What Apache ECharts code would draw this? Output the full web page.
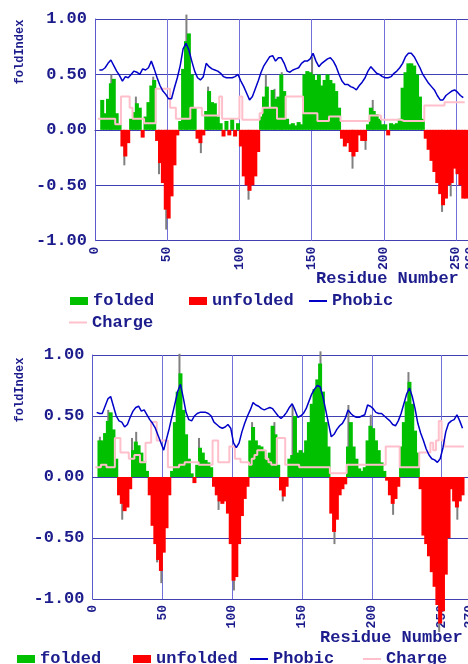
<!DOCTYPE html>
<html><head><meta charset="utf-8">
<script src="https://cdn.jsdelivr.net/npm/echarts@6/dist/echarts.min.js"></script>
<style>html,body{margin:0;padding:0;background:#fff;overflow:hidden}#c{width:468px;height:664px}</style>
</head><body><div id="c"></div>
<script>
// residue numbering of the sampled values: first residue and step
const START = 1, STEP = 2;

// ---- top panel ----
const topFold = [null,null,0.27,0.15,0.28,0.42,0.46,0.15,0.05,-0.15,
 -0.24,-0.12,0.1,0.16,0.24,0.2,-0.07,0.12,0.25,0.4,
 0.45,-0.1,-0.3,-0.48,-0.72,-0.8,-0.6,-0.32,-0.05,0.08,
 0.55,0.8,0.87,0.5,0.2,-0.08,-0.12,-0.05,0.17,0.35,
 0.25,0.24,0.12,0.06,-0.06,0.08,-0.05,0.1,-0.06,0.06,
 -0.15,-0.42,-0.5,-0.55,-0.5,-0.42,-0.2,0.12,0.3,0.39,
 0.2,0.36,0.28,0.3,0.5,0.35,0.1,0.05,0.06,0.04,
 0.07,0.05,0.5,0.53,0.52,0.5,0.45,0.5,0.4,0.45,
 0.5,0.45,0.42,0.35,0.2,-0.08,-0.15,-0.12,-0.2,-0.24,
 -0.2,-0.05,-0.1,-0.1,0.05,0.2,0.17,0.14,0.1,0.05,
 0.05,-0.05,0.06,0.05,0.06,0.1,0.38,0.52,0.6,0.6,
 0.58,0.5,0.3,0.1,-0.08,-0.18,-0.28,-0.38,-0.48,-0.58,
 -0.68,-0.62,-0.5,-0.48,-0.35,-0.4,-0.5,-0.62,-0.62,null];
const topPhobic = [null,0.54,0.54,0.56,0.6,0.63,0.58,0.53,0.49,0.44,
 0.48,0.47,0.5,0.53,0.52,0.5,0.55,0.54,0.56,0.62,
 0.55,0.47,0.4,0.35,0.32,0.28,0.28,0.38,0.47,0.58,
 0.73,0.78,0.72,0.62,0.53,0.47,0.45,0.48,0.6,0.57,
 0.55,0.54,0.53,0.51,0.48,0.47,0.47,0.47,0.48,0.5,
 0.44,0.39,0.33,0.27,0.3,0.37,0.44,0.52,0.58,0.62,
 0.66,0.67,0.62,0.65,0.65,0.6,0.53,0.52,0.54,0.55,
 0.56,0.6,0.62,0.62,0.64,0.69,0.62,0.57,0.6,0.62,
 0.64,0.65,0.62,0.57,0.5,0.44,0.41,0.41,0.39,0.38,
 0.36,0.4,0.43,0.47,0.53,0.57,0.54,0.51,0.5,0.48,
 0.47,0.47,0.48,0.51,0.53,0.56,0.6,0.66,0.69,0.69,
 0.66,0.61,0.56,0.5,0.46,0.42,0.39,0.36,0.31,0.27,
 0.27,0.31,0.33,0.35,0.36,0.34,0.31,0.29,null,null];
const topCharge = [null,0.1,0.1,0.1,0.1,0.1,0.1,0.05,0.05,0.3,
 0.3,0.3,0.2,0.1,0.1,0.1,0.1,0.06,0.06,0.06,
 0.06,0.37,0.37,0.37,0.37,0.37,0.2,0.2,0.1,0.1,
 0.1,0.1,0.1,0.2,0.2,0.2,0.2,0.13,0.13,0.13,
 0.13,0.13,0.13,0.3,0.1,0.1,0.1,0.1,0.1,0.1,
 0.3,0.09,0.09,0.09,0.09,0.09,0.09,0.15,0.2,0.2,
 0.2,0.2,0.2,0.1,0.1,0.1,0.3,0.3,0.3,0.3,
 0.3,0.3,0.15,0.15,0.15,0.15,0.15,0.08,0.08,0.08,
 0.08,0.12,0.12,0.12,0.12,0.08,0.08,0.08,0.08,0.08,
 0.08,0.08,0.08,0.08,0.08,0.13,0.13,0.13,0.13,0.09,
 0.09,0.09,0.09,0.09,0.09,0.09,0.08,0.08,0.08,0.08,
 0.08,0.08,0.08,0.08,0.22,0.22,0.22,0.22,0.22,0.22,
 0.22,0.25,0.25,0.25,0.25,0.25,0.25,0.25,null,null];
const topSpikes = [[12,0.5],[21,-0.32],[29,0.3],[41,0.48],[45,-0.4],[50,-0.9],[64,1.04],[74,-0.21],[79,0.39],
 [107,-0.63],[119,0.5],[125,0.37],[130,0.52],[151,0.66],[179,-0.35],[188,-0.18],[193,0.27],[241,-0.74],[247,-0.6]];

// ---- bottom panel ----
const botFold = [null,null,0.3,0.3,0.36,0.46,0.53,0.39,0.15,-0.15,
 -0.22,-0.28,-0.25,-0.1,0.22,0.29,0.26,0.2,0.13,0.05,
 -0.15,-0.4,-0.55,-0.68,-0.77,-0.62,-0.42,-0.15,0.05,0.45,
 0.7,0.85,0.55,0.35,0.15,0.03,-0.05,0.1,0.24,0.2,
 0.14,0.12,0.08,-0.08,-0.15,-0.2,-0.22,-0.2,-0.3,-0.55,
 -0.85,-0.82,-0.55,-0.32,-0.18,-0.08,0.3,0.41,0.3,0.26,
 0.25,0.22,0.14,0.2,0.42,0.35,0.1,-0.11,-0.16,-0.08,
 0.15,0.18,0.5,0.2,0.22,0.2,0.3,0.45,0.6,0.72,
 0.8,0.93,0.7,0.45,0.25,-0.3,-0.45,-0.35,-0.15,-0.1,
 -0.06,0.25,0.45,0.25,0.15,0.07,0.05,0.08,0.3,0.42,
 0.4,0.3,0.22,0.12,0.05,-0.03,-0.15,-0.22,-0.18,-0.08,
 0.25,0.45,0.62,0.78,0.6,0.38,0.2,-0.1,-0.48,-0.55,
 -0.65,-0.78,-0.9,-1.05,-1.2,-1.1,-0.8,-0.5,-0.1,-0.2,
 -0.25,-0.2,-0.15,null,null];
const botPhobic = [null,0.53,0.52,0.52,0.58,0.64,0.66,0.58,0.5,0.46,
 0.45,0.41,0.43,0.49,0.54,0.57,0.58,0.54,0.55,0.51,
 0.47,0.44,0.4,0.34,0.28,0.22,0.31,0.4,0.5,0.6,
 0.7,0.76,0.65,0.53,0.47,0.46,0.5,0.52,0.53,0.53,
 0.53,0.52,0.5,0.45,0.43,0.41,0.4,0.41,0.43,0.4,
 0.28,0.24,0.28,0.37,0.44,0.5,0.55,0.61,0.59,0.58,
 0.56,0.55,0.56,0.57,0.56,0.53,0.5,0.48,0.5,0.53,
 0.57,0.6,0.55,0.49,0.5,0.52,0.56,0.62,0.68,0.72,
 0.75,0.74,0.66,0.55,0.44,0.33,0.35,0.39,0.42,0.44,
 0.48,0.55,0.52,0.5,0.49,0.49,0.5,0.51,0.59,0.58,
 0.56,0.53,0.52,0.52,0.5,0.48,0.46,0.43,0.42,0.46,
 0.52,0.6,0.68,0.73,0.66,0.56,0.44,0.36,0.3,0.23,
 0.18,0.15,0.14,0.12,0.15,0.24,0.37,0.44,0.46,0.47,
 0.51,0.46,0.4,null,null];
const botCharge = [null,0.08,0.08,0.1,0.1,0.08,0.08,0.08,0.32,0.32,
 0.2,0.2,0.2,0.15,0.15,0.18,0.18,0.12,0.12,0.28,
 0.28,0.45,0.45,0.3,0.3,0.3,0.3,0.08,0.08,0.08,
 0.08,0.1,0.1,0.12,0.12,0.12,0.12,0.12,0.1,0.1,
 0.1,0.1,0.1,0.3,0.3,0.12,0.12,0.12,0.12,0.25,
 0.25,0.15,0.15,0.12,0.12,0.12,0.1,0.15,0.18,0.22,
 0.22,0.22,0.15,0.12,0.1,0.1,0.32,0.32,0.32,0.1,
 0.1,0.1,0.1,0.1,0.08,0.08,0.08,0.08,0.08,0.08,
 0.08,0.08,0.08,0.08,0.08,0.03,0.03,0.03,0.03,0.03,
 0.03,0.1,0.1,0.1,0.1,0.1,0.1,0.1,0.1,0.1,
 0.1,0.1,0.1,0.1,0.1,0.25,0.25,0.25,0.25,0.25,
 0.08,0.08,0.08,0.08,0.08,0.08,0.08,0.2,0.2,0.2,
 0.2,0.28,0.22,0.3,0.46,0.3,0.25,0.25,0.25,0.25,
 0.25,0.25,0.25,null,null];
const botSpikes = [[6,0.33],[12,0.55],[22,-0.35],[29,0.32],[32,0.37],[47,-0.7],[50,-0.87],[63,1.01],[77,0.32],
 [91,-0.27],[102,-0.93],[115,0.45],[131,0.45],[137,-0.2],[144,0.59],[164,1.03],[174,-0.55],[184,0.59],
 [200,0.51],[216,-0.31],[227,0.86],[249,-1.27],[262,-0.35]];

// axes
const topXMax = 260, botXMax = 270, xInterval = 50;
const yMin = -1, yMax = 1, yInterval = 0.5;
const legendNames = ['folded', 'unfolded', 'Phobic', 'Charge'];

const FONT = '"Liberation Mono", "DejaVu Sans Mono", monospace';
const TXT = '#1c1c8c';
const GREEN = '#00c000', RED = '#ff0000', GRAY = '#808080', BLUE = '#0000c8', PINK = '#ffc0cb';

const xy = arr => arr.map((v, i) => [START + STEP * i, v]);
const pos = arr => arr.map((v, i) => [START + STEP * i, (v != null && v > 0) ? v : null]);
const neg = arr => arr.map((v, i) => [START + STEP * i, (v != null && v < 0) ? v : null]);

function xAxis(gi, max) {
  return {
    type: 'value', gridIndex: gi, min: 0, max: max, interval: xInterval,
    axisLine: { show: true, lineStyle: { color: '#3c3cb0', width: 1 } },
    axisTick: { show: false },
    splitLine: { show: true, lineStyle: { color: '#7070d8', width: 1 } },
    axisLabel: { rotate: 90, margin: 6, color: TXT, fontFamily: FONT, fontWeight: 'bold', fontSize: 13,
      showMaxLabel: true, showMinLabel: true, hideOverlap: false }
  };
}
function yAxis(gi) {
  return {
    type: 'value', gridIndex: gi, min: yMin, max: yMax, interval: yInterval,
    axisLine: { show: true, onZero: false, lineStyle: { color: '#5a5acc', width: 1 } },
    axisTick: { show: false },
    splitLine: { show: true, lineStyle: { color: '#4040b0', width: 1 } },
    axisLabel: { margin: 8, color: TXT, fontFamily: FONT, fontWeight: 'bold', fontSize: 17,
      formatter: v => v.toFixed(2) }
  };
}
function panelSeries(idx, fold, phobic, charge, spikes) {
  const base = { xAxisIndex: idx, yAxisIndex: idx };
  return [
    Object.assign({ type: 'bar', name: 'spikes', data: spikes, barWidth: 2, barGap: '-100%', clip: false, z: 1,
      itemStyle: { color: GRAY }, silent: true }, base),
    Object.assign({ type: 'bar', name: 'folded', data: pos(fold), barWidth: 4, barGap: '-100%', clip: false, z: 2,
      itemStyle: { color: GREEN } }, base),
    Object.assign({ type: 'bar', name: 'unfolded', data: neg(fold), barWidth: 4, barGap: '-100%', clip: false, z: 2,
      itemStyle: { color: RED } }, base),
    Object.assign({ type: 'line', name: 'Charge', data: xy(charge), step: 'middle', symbol: 'none', z: 3,
      lineStyle: { color: PINK, width: 2 }, itemStyle: { color: PINK } }, base),
    Object.assign({ type: 'line', name: 'Phobic', data: xy(phobic), symbol: 'none', z: 4,
      lineStyle: { color: BLUE, width: 1.5 }, itemStyle: { color: BLUE } }, base)
  ];
}
const legendTextStyle = { fontFamily: FONT, fontWeight: 'bold', fontSize: 17, color: TXT, lineHeight: 18 };
function lg(name, left, top) {
  const isBar = name === 'folded' || name === 'unfolded';
  return { data: [{ name: name, icon: 'rect' }], left: left, top: top, padding: 0,
    itemWidth: 18, itemHeight: isBar ? 8 : 2, itemGap: 0, selectedMode: false, textStyle: legendTextStyle };
}
const titleStyle = { fill: TXT, fontFamily: FONT, fontWeight: 'bold' };

const chart = echarts.init(document.getElementById('c'), null, { renderer: 'canvas' });
chart.setOption({
  animation: false,
  backgroundColor: '#fff',
  grid: [
    { left: 95, top: 19, width: 375.5, height: 221.7, outerBoundsMode: 'none', containLabel: false },
    { left: 92.5, top: 355, width: 377, height: 244, outerBoundsMode: 'none', containLabel: false }
  ],
  xAxis: [xAxis(0, topXMax), xAxis(1, botXMax)],
  yAxis: [yAxis(0), yAxis(1)],
  legend: [
    lg(legendNames[0], 70, 292), lg(legendNames[1], 189, 292), lg(legendNames[2], 309, 292), lg(legendNames[3], 69, 313.5),
    lg(legendNames[0], 17, 650), lg(legendNames[1], 133, 650), lg(legendNames[2], 250, 650), lg(legendNames[3], 363, 650)
  ],
  graphic: [
    { type: 'text', x: 20, y: 52, rotation: Math.PI / 2,
      style: Object.assign({ text: 'foldIndex', fontSize: 12, align: 'center', verticalAlign: 'middle' }, titleStyle) },
    { type: 'text', x: 20, y: 390, rotation: Math.PI / 2,
      style: Object.assign({ text: 'foldIndex', fontSize: 12, align: 'center', verticalAlign: 'middle' }, titleStyle) },
    { type: 'text', x: 316, y: 279,
      style: Object.assign({ text: 'Residue Number', fontSize: 17, align: 'left', verticalAlign: 'middle' }, titleStyle) },
    { type: 'text', x: 320, y: 638,
      style: Object.assign({ text: 'Residue Number', fontSize: 17, align: 'left', verticalAlign: 'middle' }, titleStyle) }
  ],
  series: [].concat(
    panelSeries(0, topFold, topPhobic, topCharge, topSpikes),
    panelSeries(1, botFold, botPhobic, botCharge, botSpikes)
  )
});
</script>
</body></html>
